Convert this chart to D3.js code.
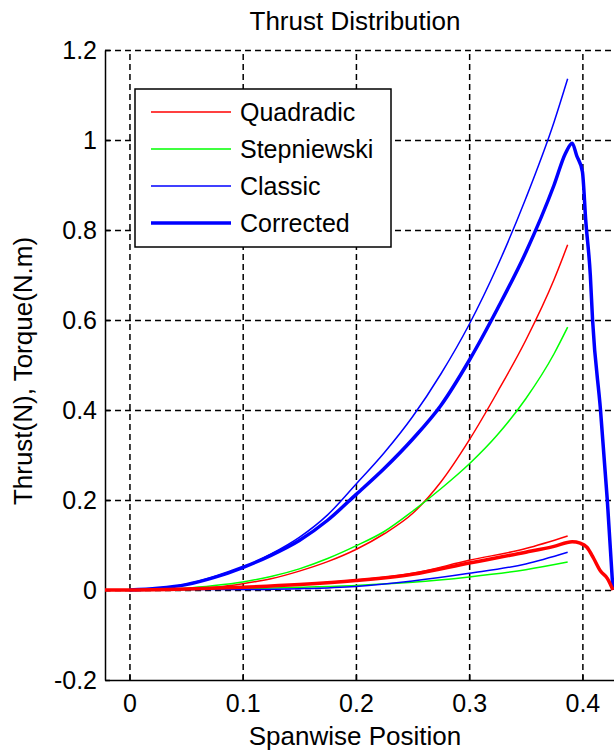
<!DOCTYPE html>
<meta charset='utf-8'>
<style>
body { margin: 0; background: #fff; }
svg { font-family: 'Liberation Sans', Arial, sans-serif; }
.grid line { stroke: #000; stroke-width: 1.5; stroke-dasharray: 6,4; }
.grid path { display: none; }
.axis path, .axis line { stroke: #000; stroke-width: 1.5; }
.axis text { font-size: 25px; fill: #000; }
</style>
<svg width='614' height='753'></svg>
<script src='https://d3js.org/d3.v7.min.js'></script>
<script>

// spanwise positions for the thin curves
var xThin = [0, 0.025, 0.05, 0.075, 0.1, 0.125, 0.15, 0.175, 0.2, 0.225, 0.25, 0.275, 0.3, 0.325, 0.35, 0.375, 0.387];

var quadradic   = [0, 0, 0.002, 0.006, 0.014, 0.025, 0.042, 0.063, 0.09, 0.125, 0.17, 0.24, 0.333, 0.44, 0.555, 0.69, 0.767];
var stepniewski = [0, 0.001, 0.004, 0.01, 0.018, 0.03, 0.047, 0.07, 0.098, 0.13, 0.175, 0.225, 0.28, 0.345, 0.425, 0.525, 0.584];
var classic     = [0, 0.004, 0.013, 0.03, 0.05, 0.08, 0.117, 0.167, 0.235, 0.305, 0.385, 0.48, 0.59, 0.72, 0.87, 1.04, 1.136];

var xCorrected = [0, 0.025, 0.05, 0.075, 0.1, 0.125, 0.15, 0.175, 0.2, 0.225, 0.25, 0.275, 0.3, 0.325, 0.35, 0.375, 0.385, 0.391, 0.395, 0.4, 0.403, 0.407, 0.409, 0.416, 0.422, 0.427];
var corrected  = [0, 0.004, 0.012, 0.028, 0.05, 0.077, 0.11, 0.155, 0.212, 0.27, 0.335, 0.41, 0.51, 0.625, 0.75, 0.9, 0.97, 0.993, 0.965, 0.93, 0.82, 0.7, 0.6, 0.4, 0.2, 0];

// lower (torque) curves
var xTorque = [0, 0.05, 0.1, 0.15, 0.2, 0.25, 0.3, 0.35, 0.387];
var quadTorque    = [0, 0.002, 0.006, 0.012, 0.022, 0.037, 0.066, 0.092, 0.12];
var stepTorque    = [0, 0.001, 0.003, 0.006, 0.01, 0.017, 0.029, 0.045, 0.062];
var classicTorque = [0, 0.001, 0.001, 0.003, 0.008, 0.02, 0.037, 0.058, 0.084];

var xCorrTorque = [-0.0216, 0, 0.05, 0.1, 0.15, 0.2, 0.25, 0.3, 0.35, 0.375, 0.391, 0.398, 0.404, 0.41, 0.416, 0.422, 0.427];
var corrTorque  = [0, 0, 0.002, 0.006, 0.012, 0.021, 0.035, 0.06, 0.084, 0.097, 0.107, 0.104, 0.095, 0.07, 0.042, 0.026, 0];

var xTicks = [0, 0.1, 0.2, 0.3, 0.4];
var yTicks = [-0.2, 0, 0.2, 0.4, 0.6, 0.8, 1, 1.2];
var legendNames = ['Quadradic', 'Stepniewski', 'Classic', 'Corrected'];

var svg = d3.select('svg'),
    plotLeft = 105, plotRight = 639, plotTop = 50, plotBottom = 680;

var x = d3.scaleLinear().domain([-0.0216, 0.45]).range([plotLeft, plotRight]),
    y = d3.scaleLinear().domain([-0.2, 1.2]).range([plotBottom, plotTop]);

var fmt = function(d) { return String(+d.toFixed(1)); };

// grid
svg.append('g').attr('class', 'grid')
    .attr('transform', 'translate(0,' + plotBottom + ')')
    .call(d3.axisBottom(x).tickValues(xTicks).tickSize(-(plotBottom - plotTop)).tickFormat(''));
svg.append('g').attr('class', 'grid')
    .attr('transform', 'translate(' + plotLeft + ',0)')
    .call(d3.axisLeft(y).tickValues(yTicks.slice(1)).tickSize(-(plotRight - plotLeft)).tickFormat(''));

// axes
svg.append('g').attr('class', 'axis')
    .attr('transform', 'translate(0,' + plotBottom + ')')
    .call(d3.axisBottom(x).tickValues(xTicks).tickSizeInner(-5).tickSizeOuter(0).tickPadding(14).tickFormat(fmt));
svg.append('g').attr('class', 'axis')
    .attr('transform', 'translate(' + plotLeft + ',0)')
    .call(d3.axisLeft(y).tickValues(yTicks).tickSizeInner(-5).tickSizeOuter(0).tickPadding(8).tickFormat(fmt));

svg.append('clipPath').attr('id', 'clip')
  .append('rect').attr('x', plotLeft).attr('y', plotTop - 5)
  .attr('width', plotRight - plotLeft).attr('height', plotBottom - plotTop + 5);

var line = d3.line()
    .x(function(d) { return x(d[0]); })
    .y(function(d) { return y(d[1]); })
    .curve(d3.curveMonotoneX);

var series = [
    { xs: xThin, ys: quadradic, color: '#ff0000', w: 1.5 },
    { xs: xThin, ys: stepniewski, color: '#00ff00', w: 1.5 },
    { xs: xThin, ys: classic, color: '#0000ff', w: 1.5 },
    { xs: xCorrected, ys: corrected, color: '#0000ff', w: 3.5 },
    { xs: xTorque, ys: quadTorque, color: '#ff0000', w: 1.5 },
    { xs: xTorque, ys: stepTorque, color: '#00ff00', w: 1.5 },
    { xs: xTorque, ys: classicTorque, color: '#0000ff', w: 1.5 },
    { xs: xCorrTorque, ys: corrTorque, color: '#ff0000', w: 3.5 }
];

svg.append('g').attr('clip-path', 'url(#clip)')
  .selectAll('path')
  .data(series)
  .enter()
  .append('path')
    .attr('fill', 'none')
    .attr('stroke', function(d) { return d.color; })
    .attr('stroke-width', function(d) { return d.w; })
    .attr('stroke-linejoin', 'round')
    .attr('d', function(d) { return line(d.xs.map(function(v, i) { return [v, d.ys[i]]; })); });

// legend
var legend = svg.append('g');
legend.append('rect')
    .attr('x', 135).attr('y', 89).attr('width', 256).attr('height', 158)
    .attr('fill', '#fff').attr('stroke', '#000').attr('stroke-width', 1.5);

var entries = legend.selectAll('g.entry')
    .data(legendNames.map(function(n, i) { return { name: n, s: series[i] }; }))
    .enter().append('g')
    .attr('transform', function(d, i) { return 'translate(0,' + (112 + i * 37) + ')'; });
entries.append('line')
    .attr('x1', 151).attr('x2', 231)
    .attr('stroke', function(d) { return d.s.color; })
    .attr('stroke-width', function(d) { return d.s.w; });
entries.append('text')
    .attr('x', 240).attr('dy', '0.35em')
    .style('font-size', '25px')
    .text(function(d) { return d.name; });

// labels
svg.append('text')
    .attr('x', 355).attr('y', 30)
    .attr('text-anchor', 'middle').style('font-size', '26px')
    .text('Thrust Distribution');
svg.append('text')
    .attr('x', 355).attr('y', 745)
    .attr('text-anchor', 'middle').style('font-size', '26px')
    .text('Spanwise Position');
svg.append('text')
    .attr('transform', 'translate(32,371) rotate(-90)')
    .attr('text-anchor', 'middle').style('font-size', '26px')
    .text('Thrust(N), Torque(N.m)');

</script>
